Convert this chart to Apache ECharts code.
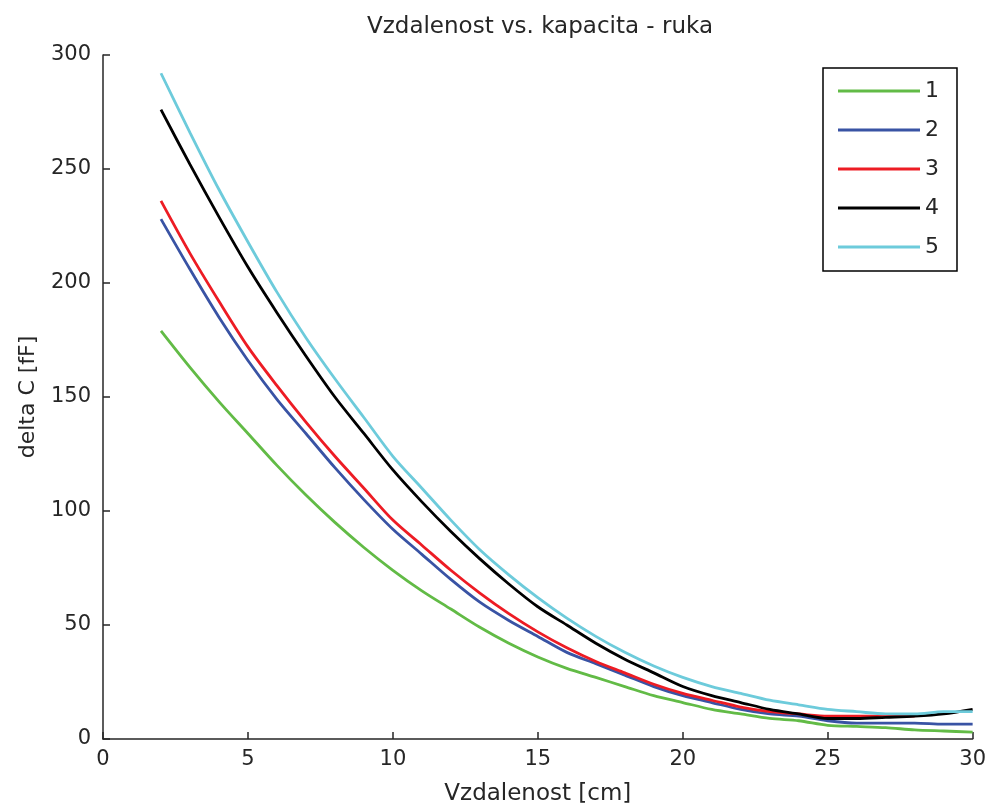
<!DOCTYPE html>
<html>
<head>
<meta charset="utf-8">
<script src="https://cdn.jsdelivr.net/npm/echarts@6/dist/echarts.min.js"></script>
<style>
html,body{margin:0;padding:0;background:#fff;}
#chart{width:989px;height:811px;}
</style>
</head>
<body>
<div id="chart"></div>
<script>
const xValues = [2,3,4,5,6,7,8,9,10,11,12,13,14,15,16,17,18,19,20,21,22,23,24,25,26,27,28,29,30];
const seriesNames = ['1','2','3','4','5'];
const s1 = [179,163,148,134,120,107,95,84,74,65,57,49,42,36,31,27,23,19,16,13,11,9,8,6,5.5,5,4,3.5,3];
const s2 = [228,206,185,166,149,134,119,105,92,81,70,60,52,45,38,33,28,23,19,16,13,11,10,8,7,7,7,6.5,6.5];
const s3 = [236,213,192,172,155,139,124,110,96,85,74,64,55,47,40,34,29,24,20,17,14,12,11,10,10,10,10,null,null];
const s4 = [276,252,229,207,187,168,150,134,118,104,91,79,68,58,50,42,35,29,23,19,16,13,11,9,9,9.5,10,11,13];
const s5 = [292,266,241,218,196,176,158,141,124,110,96,83,72,62,53,45,38,32,27,23,20,17,15,13,12,11,11,12,12];
const colors = ['#62bb46','#3953a4','#ed1c24','#000000','#6dcbdb'];
const allValues = [s1,s2,s3,s4,s5];

const FONT = '"DejaVu Sans", "Liberation Sans", Arial, sans-serif';
const TXT = '#262626';

const chart = echarts.init(document.getElementById('chart'));
const series = allValues.map((vals, i) => ({
  name: seriesNames[i],
  type: 'line',
  data: xValues.map((x, j) => [x, vals[j]]),
  showSymbol: false,
  smooth: 0.3,
  connectNulls: false,
  lineStyle: {width: 2.8, color: colors[i]},
  itemStyle: {color: colors[i]},
  z: 2 + i
}));

chart.setOption({
  animation: false,
  backgroundColor: '#fff',
  title: {
    text: 'Vzdalenost vs. kapacita - ruka',
    left: 535, top: 11, textAlign: 'center',
    textStyle: {fontFamily: FONT, fontSize: 23, fontWeight: 'normal', color: TXT}
  },
  legend: {
    orient: 'vertical',
    left: 823, top: 68,
    padding: [12, 18, 13, 15],
    itemWidth: 82, itemHeight: 3, itemGap: 17,
    icon: 'rect',
    selectedMode: false,
    borderColor: '#000', borderWidth: 1.5,
    backgroundColor: '#fff',
    textStyle: {fontFamily: FONT, fontSize: 22, color: TXT, lineHeight: 20},
    data: seriesNames
  },
  grid: {left: 103, right: 14, top: 55, bottom: 71, containLabel: false},
  xAxis: {
    type: 'value', min: 0, max: 30, interval: 5,
    name: 'Vzdalenost [cm]', nameLocation: 'middle', nameGap: 44,
    nameTextStyle: {fontFamily: FONT, fontSize: 23, color: TXT},
    axisLine: {show: true, lineStyle: {color: '#262626', width: 1.5}},
    axisTick: {show: true, inside: true, length: 7, lineStyle: {color: '#262626', width: 1.5}},
    axisLabel: {fontFamily: FONT, fontSize: 21, color: TXT, margin: 10},
    splitLine: {show: false}
  },
  yAxis: {
    type: 'value', min: 0, max: 300, interval: 50,
    name: 'delta C [fF]', nameLocation: 'middle', nameGap: 64,
    nameTextStyle: {fontFamily: FONT, fontSize: 22, color: TXT},
    axisLine: {show: true, lineStyle: {color: '#262626', width: 1.5}},
    axisTick: {show: true, inside: true, length: 7, lineStyle: {color: '#262626', width: 1.5}},
    axisLabel: {fontFamily: FONT, fontSize: 21, color: TXT, margin: 12},
    splitLine: {show: false}
  },
  series: series
});
</script>
</body>
</html>
